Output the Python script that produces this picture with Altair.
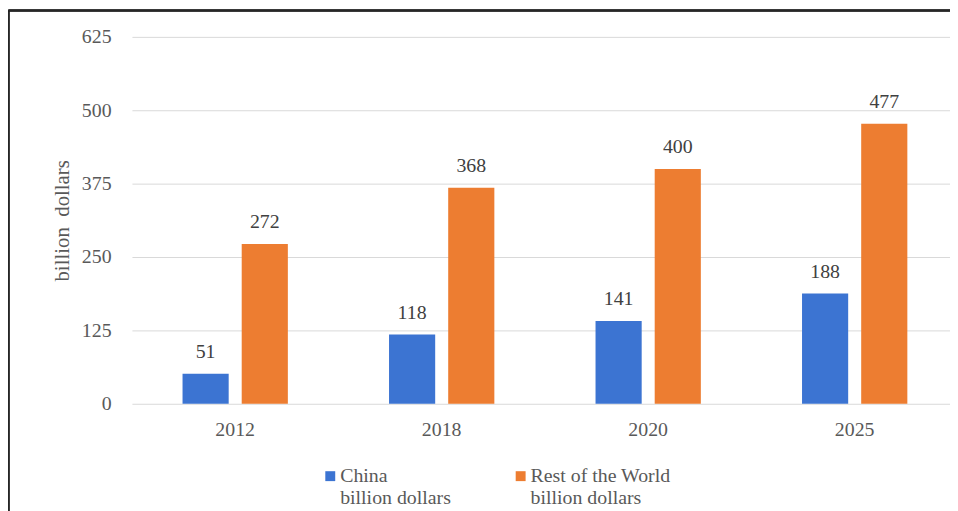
import altair as alt
import pandas as pd

years = ["2012", "2018", "2020", "2025"]
china = [51, 118, 141, 188]
rest = [272, 368, 400, 477]
series = ["China|billion dollars", "Rest of the World|billion dollars"]
colors = ["#3C74D2", "#ED7D31"]
y_ticks = [0, 125, 250, 375, 500, 625]

rows = []
for i, yr in enumerate(years):
    rows.append({"year": yr, "series": series[0], "value": china[i]})
    rows.append({"year": yr, "series": series[1], "value": rest[i]})
df = pd.DataFrame(rows)

FONT = "Liberation Serif"

x = alt.X("year:N", sort=years,
          scale=alt.Scale(paddingInner=0.49, paddingOuter=0.245, range=[0, 833]),
          axis=alt.Axis(title=None, labelAngle=0, domain=False, ticks=False,
                        labelPadding=16, labelFontSize=20, labelColor="#595959",
                        labelFont=FONT))
xo = alt.XOffset("series:N", sort=series, scale=alt.Scale(paddingInner=0.22))
y = alt.Y("value:Q",
          scale=alt.Scale(domain=[0, 625], nice=False),
          axis=alt.Axis(values=y_ticks, title="billion\u00a0\u00a0dollars", domain=False, ticks=False,
                        gridColor="#d9d9d9", labelPadding=21, labelFontSize=20,
                        labelColor="#595959", labelFont=FONT, labelFontWeight="normal",
                        titleFont=FONT, titleFontSize=21, titleColor="#595959",
                        titleFontWeight="normal", titleX=-70, titleY=185,
                        titleAngle=270, titleAlign="center", titleBaseline="middle"))

bars = alt.Chart(df).mark_bar().encode(
    x=x, xOffset=xo, y=y,
    color=alt.Color("series:N", sort=series,
                    scale=alt.Scale(domain=series, range=colors),
                    legend=alt.Legend(title=None, orient="none", legendX=190, legendY=433,
                                      direction="horizontal", symbolType="square",
                                      symbolSize=100, symbolStrokeWidth=0,
                                      labelFont=FONT, labelFontSize=20, labelColor="#595959",
                                      labelExpr="split(datum.label, '|')",
                                      labelBaseline="middle", labelOffset=0,
                                      columnPadding=60, labelLimit=300)),
)

labels = alt.Chart(df).mark_text(baseline="bottom", dy=-12, font=FONT, fontSize=20,
                                 color="#404040").encode(
    x=alt.X("year:N", sort=years), xOffset=alt.XOffset("series:N", sort=series),
    y="value:Q", text="value:Q")

border_left = alt.Chart(df).mark_rule(color="#262626", strokeWidth=1.5).encode(
    x=alt.value(-124.5), y=alt.value(-26.5), y2=alt.value(480))
border_top = alt.Chart(df).mark_rule(color="#262626", strokeWidth=1.5).encode(
    x=alt.value(-124.5), x2=alt.value(840), y=alt.value(-26.5))

chart = alt.layer(bars, labels, border_left, border_top).properties(
    width=825, height=370,
    autosize=alt.AutoSizeParams(type="none"),
    padding={"left": 125, "top": 27, "right": 0, "bottom": 106},
).configure(font=FONT).configure_view(stroke=None).configure_text(font=FONT)

chart.save("out.html", embed_options={"renderer": "svg", "actions": False})
